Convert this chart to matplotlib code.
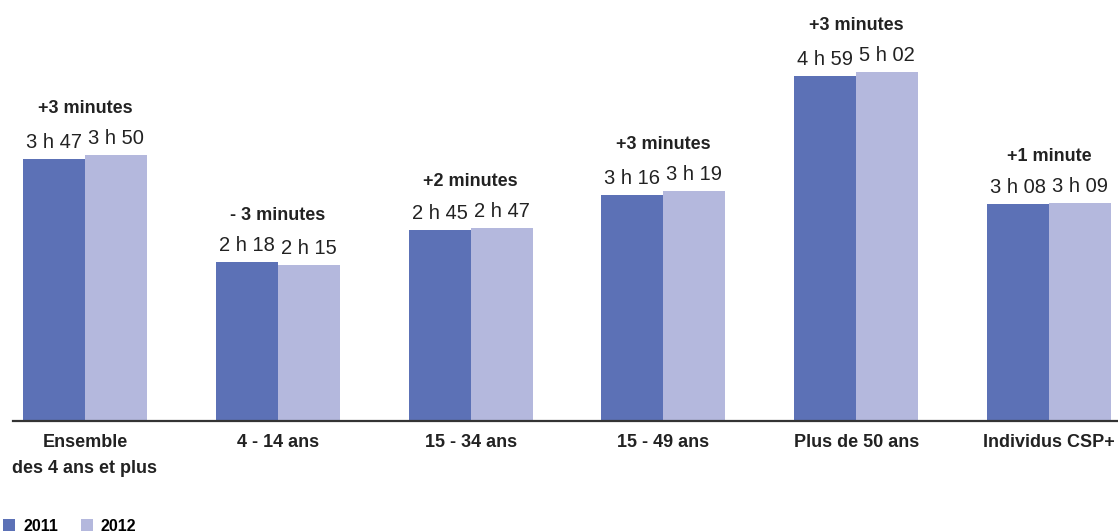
import matplotlib
matplotlib.use("Agg")
import matplotlib.pyplot as plt
from matplotlib.patches import Patch

# Durée d'écoute quotidienne de la télévision, en minutes
categories = ["Ensemble\ndes 4 ans et plus", "4 - 14 ans", "15 - 34 ans",
              "15 - 49 ans", "Plus de 50 ans", "Individus CSP+"]
minutes_2011 = [227, 138, 165, 196, 299, 188]
minutes_2012 = [230, 135, 167, 199, 302, 189]
variations = ["+3 minutes", "- 3 minutes", "+2 minutes",
              "+3 minutes", "+3 minutes", "+1 minute"]
series_labels = ["2011", "2012"]

COLOR_2011 = "#5C71B6"
COLOR_2012 = "#B4B8DD"
TEXT_COLOR = "#222222"
BOLD_FAMILY = ["Liberation Sans Narrow", "Liberation Sans", "DejaVu Sans"]
LIGHT_FAMILY = ["Liberation Sans", "DejaVu Sans"]


def fmt_duration(m):
    return f"{m // 60} h {m % 60:02d}"


fig = plt.figure(figsize=(11.18, 5.32), dpi=100)
ax = fig.add_axes([13 / 1118, 111 / 532, 1105 / 1118, 421 / 532])

x = list(range(len(categories)))
width = 0.3216
bars_2011 = ax.bar([i - width / 2 for i in x], minutes_2011, width,
                   color=COLOR_2011, linewidth=0)
bars_2012 = ax.bar([i + width / 2 for i in x], minutes_2012, width,
                   color=COLOR_2012, linewidth=0)

for bars, values in ((bars_2011, minutes_2011), (bars_2012, minutes_2012)):
    for b, v in zip(bars, values):
        ax.annotate(fmt_duration(v), (b.get_x() + b.get_width() / 2, v),
                    xytext=(0, 5.0), textcoords="offset points",
                    ha="center", va="bottom", fontsize=14.5,
                    family=LIGHT_FAMILY, color=TEXT_COLOR)

for i, (a, b, txt) in enumerate(zip(minutes_2011, minutes_2012, variations)):
    ax.annotate(txt, (i, max(a, b)), xytext=(0, 27.3),
                textcoords="offset points", ha="center", va="bottom",
                fontsize=13, fontweight="bold", family=BOLD_FAMILY,
                color=TEXT_COLOR)

ax.set_xlim(-0.3734, 5.358)
ax.set_ylim(0, 364.5)
ax.set_xticks(x)
ax.set_xticklabels(categories, fontsize=13, fontweight="bold",
                   family=BOLD_FAMILY, color=TEXT_COLOR, linespacing=1.7)
ax.tick_params(axis="x", length=0, pad=9.5)
ax.set_yticks([])
for side in ("top", "right", "left"):
    ax.spines[side].set_visible(False)
ax.spines["bottom"].set_color("#333333")
ax.spines["bottom"].set_linewidth(1.6)

handles = [Patch(facecolor=COLOR_2011, linewidth=0),
           Patch(facecolor=COLOR_2012, linewidth=0)]
fig.legend(handles, series_labels, loc="lower left",
           bbox_to_anchor=(0.003, -0.003), ncol=2, frameon=False,
           handlelength=0.75, handleheight=0.75, handletextpad=0.5,
           columnspacing=1.4, borderaxespad=0.0, borderpad=0.0,
           prop={"family": BOLD_FAMILY, "weight": "bold", "size": 11.5})

fig.savefig("out.png", dpi=100)
